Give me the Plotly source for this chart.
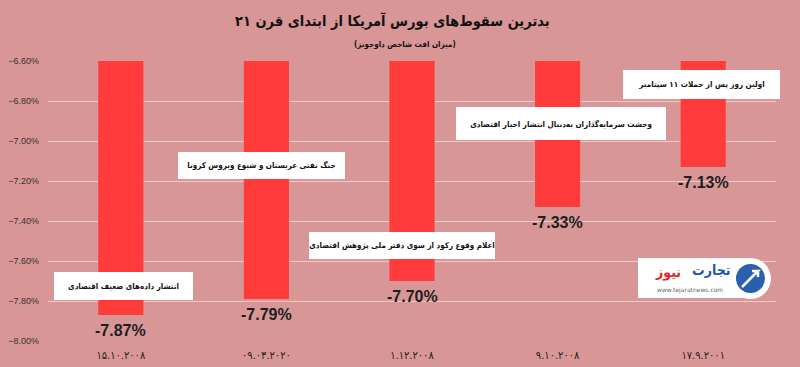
import plotly.graph_objects as go

# ---- data ----
categories = ["۱۵.۱۰.۲۰۰۸", "۰۹.۰۳.۲۰۲۰", "۱.۱۲.۲۰۰۸", "۹.۱۰.۲۰۰۸", "۱۷.۹.۲۰۰۱"]
values = [-7.87, -7.79, -7.70, -7.33, -7.13]
value_labels = ["-7.87%", "-7.79%", "-7.70%", "-7.33%", "-7.13%"]
events = [
    "انتشار داده‌های ضعیف اقتصادی",
    "جنگ نفتی عربستان و شیوع ویروس کرونا",
    "اعلام وقوع رکود از سوی دفتر ملی پژوهش اقتصادی",
    "وحشت سرمایه‌گذاران به‌دنبال انتشار اخبار اقتصادی",
    "اولین روز پس از حملات ۱۱ سپتامبر",
]
title_text = "بدترین سقوط‌های بورس آمریکا از ابتدای قرن ۲۱"
subtitle_text = "(میزان افت شاخص داوجونز)"

BG = "#D99696"
BAR = "#FF3B3B"
GRID = "#EBCACA"
FA_FONT = "DejaVu Sans Condensed, DejaVu Sans"

# plot area in pixels
W, H = 800, 367
L, R, T, B = 48, 24, 61, 26
pw, ph = W - L - R, H - T - B


def px(x):
    return (x - L) / pw


def py(y):
    return (H - B - y) / ph


fig = go.Figure()
fig.add_trace(go.Bar(
    x=categories,
    y=values,
    marker=dict(color=BAR, line=dict(width=0)),
    hoverinfo="skip",
))

annotations = []
# value labels under bar ends
for c, v, lab in zip(categories, values, value_labels):
    annotations.append(dict(
        text="<b>" + lab + "</b>", x=c, y=v, xref="x", yref="y",
        xanchor="center", yanchor="middle", yshift=-15, showarrow=False,
        font=dict(family="Liberation Sans", size=16, color="#1E1E1E"),
    ))

# event boxes: center x, center y (pixels), width, height, font size
boxes = [
    (123.5, 286, 139, 28, 8),
    (261, 165.5, 167, 27, 8),
    (402, 245.5, 186, 27, 8),
    (561, 123.5, 210, 33, 8),
    (701.5, 84.5, 157, 29, 8),
]
for txt, (cx, cy, bw, bh, fs) in zip(events, boxes):
    annotations.append(dict(
        text="<b>" + txt + "</b>", xref="paper", yref="paper",
        x=px(cx), y=py(cy), xanchor="center", yanchor="middle",
        showarrow=False, bgcolor="white", borderpad=0, borderwidth=0,
        width=bw, height=bh,
        font=dict(family=FA_FONT, size=fs, color="#111111"),
    ))

# title & subtitle
annotations.append(dict(
    text="<b>" + title_text + "</b>", xref="paper", yref="paper",
    x=px(392), y=py(21), xanchor="center", yanchor="middle", showarrow=False,
    font=dict(family=FA_FONT, size=14.5, color="#111111"),
))
annotations.append(dict(
    text="<b>" + subtitle_text + "</b>", xref="paper", yref="paper",
    x=px(405), y=py(45), xanchor="center", yanchor="middle", showarrow=False,
    font=dict(family=FA_FONT, size=8, color="#111111"),
))

# logo watermark
annotations.append(dict(
    text="<b>تجارت</b>", xref="paper", yref="paper",
    x=px(711), y=py(270), xanchor="center", yanchor="middle", showarrow=False,
    font=dict(family=FA_FONT, size=14, color="#1F56A8"),
))
annotations.append(dict(
    text="<b>نیوز</b>", xref="paper", yref="paper",
    x=px(668), y=py(272), xanchor="center", yanchor="middle", showarrow=False,
    font=dict(family=FA_FONT, size=14, color="#E3262B"),
))
annotations.append(dict(
    text="www.tejaratnews.com", xref="paper", yref="paper",
    x=px(690), y=py(290), xanchor="center", yanchor="middle", showarrow=False,
    font=dict(family="DejaVu Sans", size=6, color="#666666"),
))

shapes = [
    dict(type="rect", xref="paper", yref="paper", x0=px(638), x1=px(752),
         y0=py(298), y1=py(258), fillcolor="white", line=dict(width=0), layer="above"),
    dict(type="circle", xref="paper", yref="paper", x0=px(730), x1=px(771),
         y0=py(299), y1=py(258), fillcolor="white", line=dict(width=0), layer="above"),
    dict(type="circle", xref="paper", yref="paper", x0=px(736), x1=px(765),
         y0=py(293), y1=py(264), fillcolor="#2A5FAE", line=dict(width=0), layer="above"),
    dict(type="path", xref="paper", yref="paper",
         path=f"M {px(742)},{py(287)} L {px(758)},{py(271)} L {px(752)},{py(271)} M {px(758)},{py(271)} L {px(758)},{py(277)}",
         line=dict(color="white", width=2.5), layer="above"),
]

fig.update_layout(
    width=W, height=H,
    margin=dict(l=L, r=R, t=T, b=B, autoexpand=False),
    paper_bgcolor=BG, plot_bgcolor=BG,
    showlegend=False,
    bargap=0.69,
    annotations=annotations,
    shapes=shapes,
    xaxis=dict(
        type="category", showgrid=False, zeroline=False, showline=False,
        ticks="", tickfont=dict(family=FA_FONT, size=11, color="#222222"),
        ticklabelstandoff=6, automargin=False,
    ),
    yaxis=dict(
        range=[-8.0, -6.6], dtick=0.2, tick0=-8.0,
        tickformat=".2f", ticksuffix="%",
        showgrid=True, gridcolor=GRID, gridwidth=1,
        zeroline=False, showline=False, ticks="",
        tickfont=dict(family="Liberation Sans", size=9, color="#333333"),
        ticklabelstandoff=8, automargin=False,
    ),
)

fig.write_html(
    "out.html",
    config={"displayModeBar": False},
    post_script="document.body.style.margin='0px';document.body.style.background='" + BG + "';",
)
